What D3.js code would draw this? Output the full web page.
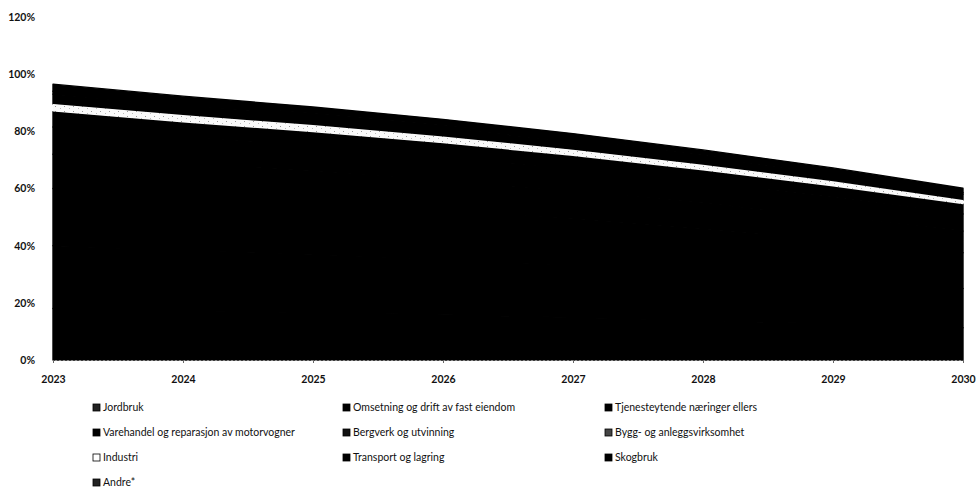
<!DOCTYPE html>
<html>
<head>
<meta charset="utf-8">
<script src="https://cdn.jsdelivr.net/npm/d3@7"></script>
<style>
  body { margin: 0; background: #fff; }
  text { font-family: Lato, "Open Sans", sans-serif; }
  .axis text { font-weight: bold; font-size: 10.5px; fill: #111; }
  .legend text { font-size: 10.5px; fill: #111; }
</style>
</head>
<body>
<div id="chart"></div>
<script>
const width = 980
const height = 502

// data (andeler i prosent)
const years = [2023, 2024, 2025, 2026, 2027, 2028, 2029, 2030]
const seriesNames = ["Jordbruk", "Omsetning og drift av fast eiendom", "Tjenesteytende næringer ellers",
  "Varehandel og reparasjon av motorvogner", "Bergverk og utvinning", "Bygg- og anleggsvirksomhet",
  "Industri", "Transport og lagring", "Skogbruk", "Andre*"]
const jordbruk = [18, 17.3, 16.6, 15.8, 14.9, 13.8, 12.6, 11.3]
const omsetning = [22, 21.0, 20.1, 19.1, 18.0, 16.7, 15.3, 13.7]
const tjenester = [20, 19.1, 18.3, 17.4, 16.4, 15.2, 13.9, 12.5]
const varehandel = [12, 11.5, 11.0, 10.5, 9.9, 9.2, 8.4, 7.6]
const bergverk = [9.5, 9.1, 8.7, 8.3, 7.8, 7.3, 6.7, 6.0]
const bygg = [5.4, 5.1, 5.0, 4.7, 4.4, 4.1, 3.8, 3.4]
const industri = [2.7, 2.6, 2.5, 2.4, 2.2, 2.0, 1.8, 1.5]
const transport = [3.4, 3.25, 3.1, 2.95, 2.75, 2.55, 2.3, 2.0]
const skogbruk = [1.0, 0.95, 0.9, 0.85, 0.8, 0.75, 0.7, 0.6]
const andre = [2.5, 2.4, 2.3, 2.2, 2.05, 1.9, 1.7, 1.5]
const yTicks = [0, 20, 40, 60, 80, 100, 120]

const allSeries = [jordbruk, omsetning, tjenester, varehandel, bergverk, bygg, industri, transport, skogbruk, andre]
const table = years.map((y, i) => {
  const row = { year: y }
  seriesNames.forEach((n, k) => row[n] = allSeries[k][i])
  return row
})

const svg = d3.select("div#chart").append("svg")
  .attr("width", width).attr("height", height)

// mønster for Industri (lys, litt prikkete)
const defs = svg.append("defs")
const pInd = defs.append("pattern").attr("id", "pInd")
  .attr("width", 9).attr("height", 5).attr("patternUnits", "userSpaceOnUse")
pInd.append("rect").attr("width", 9).attr("height", 5).attr("fill", "#fafafa")
pInd.append("rect").attr("x", 1).attr("y", 1).attr("width", 1).attr("height", 1).attr("fill", "#999")
pInd.append("rect").attr("x", 6).attr("y", 3).attr("width", 1).attr("height", 1).attr("fill", "#bbb")

const fills = ["#000", "#000", "#000", "#000", "#000", "#000", "url(#pInd)", "#000", "#000", "#000"]
const markerFills = ["#222", "#000", "#000", "#000", "#111", "#444", "#fff", "#000", "#000", "#222"]

const x = d3.scaleLinear().domain([2023, 2030]).range([53, 963])
const y = d3.scaleLinear().domain([0, 120]).range([360, 17])

const stack = d3.stack().keys(seriesNames)
const layers = stack(table)

const area = d3.area()
  .x(d => x(d.data.year))
  .y0(d => y(d[0]))
  .y1(d => y(d[1]))

// svarte lag først, så Industri oppå, så ingen lyse sømmer
const areaGroup = svg.append("g")
areaGroup.selectAll("path").data(layers)
  .join("path")
  .attr("d", area)
  .attr("fill", (d, i) => fills[i])
  .attr("stroke", (d, i) => i === 6 ? "none" : "#000")
  .attr("stroke-width", 1.4)
  .attr("stroke-linejoin", "round")
areaGroup.selectAll("path").filter((d, i) => i === 6).raise()

// akser
const xAxis = svg.append("g").attr("class", "axis")
  .attr("transform", `translate(0,${y(0)})`)
  .call(d3.axisBottom(x).tickValues(years).tickFormat(d3.format("d")).tickSize(3).tickPadding(13))
xAxis.select(".domain").attr("stroke", "#888").attr("stroke-dasharray", "2,2")
xAxis.selectAll(".tick line").attr("stroke", "#666")

const yAxis = svg.append("g").attr("class", "axis")
  .attr("transform", `translate(${x(2023)},0)`)
  .call(d3.axisLeft(y).tickValues(yTicks).tickFormat(d => d + "%").tickSize(0).tickPadding(18))
yAxis.select(".domain").remove()

// legende
const legendX = [93, 343, 605]
const legendY = [411, 436, 461, 486]
const legend = svg.append("g").attr("class", "legend")
  .selectAll("g").data(seriesNames).join("g")
  .attr("transform", (d, i) => `translate(${legendX[i % 3]},${legendY[Math.floor(i / 3)]})`)
legend.append("rect")
  .attr("x", 0).attr("y", -7).attr("width", 7).attr("height", 7)
  .attr("fill", (d, i) => markerFills[i])
  .attr("stroke", "#000").attr("stroke-width", 0.8)
legend.append("text")
  .attr("x", 10).attr("y", 0)
  .text(d => d)
</script>
</body>
</html>
